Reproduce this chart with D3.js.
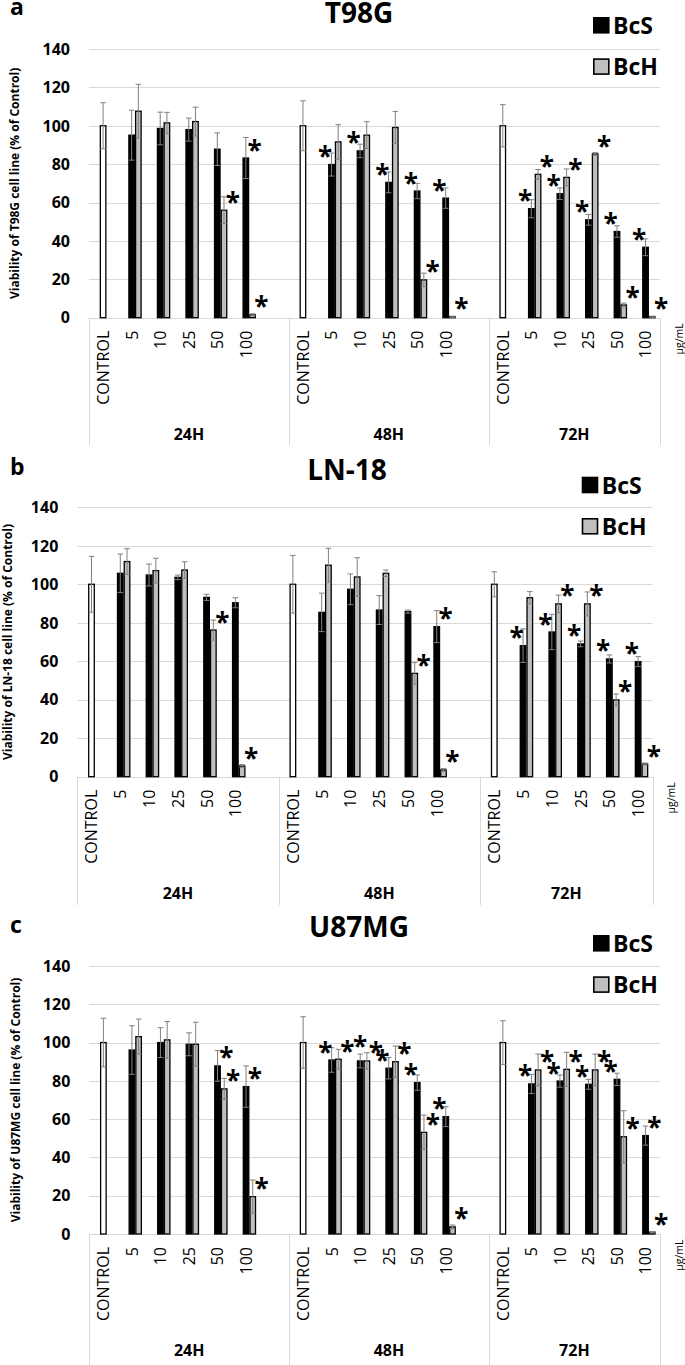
<!DOCTYPE html>
<html><head><meta charset="utf-8">
<script src="https://cdn.jsdelivr.net/npm/d3@7"></script>
<style>
html,body{margin:0;padding:0;background:#fff;}
svg{display:block;font-family:"Open Sans",sans-serif;}
</style></head>
<body><svg id="chart" width="685" height="1365"></svg>
<script>
// ---------- shared categories ----------
const groups = ["24H", "48H", "72H"];
const doses = ["5", "10", "25", "50", "100"];
const controlLabel = "CONTROL";
const seriesNames = ["BcS", "BcH"];
const yTicks = [0, 20, 40, 60, 80, 100, 120, 140];
const unitLabel = "\u03bcg/mL";

// ---------- T98G (a) ----------
const t98gControl = [100, 100, 100];
const t98gControlErr = [12, 13, 11];
const t98gBcS = [[95.1, 98.6, 98, 87.8, 83.2], [79.8, 86.9, 70.5, 66, 62.3], [56.8, 64.6, 51, 44.9, 36.7]];
const t98gBcSErr = [[13, 8.5, 6, 8.5, 10.7], [6, 3.5, 5.4, 4, 5.3], [4.7, 3, 2.8, 3, 4.4]];
const t98gBcH = [[107.6, 101.5, 102.2, 56, 1.5], [91.6, 95.1, 99.1, 19.7, 0.5], [74.7, 73.1, 85.3, 6.6, 0.5]];
const t98gBcHErr = [[14, 5.5, 7.5, 7, 0.5], [9, 7, 8.4, 3.5, 0.3], [2.5, 4.4, 0.7, 1, 0.3]];
const t98gBcSStars = [["", "", "", "", "R"], ["L", "L", "L", "L", "L"], ["L", "L", "L", "L", "L"]];
const t98gBcHStars = [["", "", "", "R", "R"], ["", "", "", "R", "R"], ["R", "R", "R", "R", "R"]];

// ---------- LN-18 (b) ----------
const ln18Control = [100, 100, 100];
const ln18ControlErr = [14.5, 15, 6.5];
const ln18BcS = [[105.7, 104.8, 103.6, 93.2, 90.4], [85.4, 97.4, 86.6, 85.8, 78], [68.1, 75.2, 69, 61.2, 59.8]];
const ln18BcSErr = [[10, 5.7, 1.2, 1.6, 2.6], [10, 8, 7.5, 0.8, 8.3], [8.7, 9.2, 1.5, 2.1, 2.6]];
const ln18BcH = [[111.8, 107.1, 107.4, 76.2, 5.5], [109.9, 103.8, 105.7, 53.7, 3.5], [93, 89.8, 89.8, 39.9, 6.6]];
const ln18BcHErr = [[6.7, 6.4, 4.3, 5.2, 0.8], [8.8, 10, 1.7, 5.7, 0.7], [3.2, 4.6, 6.2, 3.1, 0.5]];
const ln18BcSStars = [["", "", "", "", ""], ["", "", "", "", "R"], ["L", "L", "L", "L", "L"]];
const ln18BcHStars = [["", "", "", "R", "R"], ["", "", "", "R", "R"], ["", "R", "R", "R", "R"]];

// ---------- U87MG (c) ----------
const u87Control = [100, 100, 100];
const u87ControlErr = [12.7, 13.5, 11.4];
const u87BcS = [[96.1, 100, 99.1, 87.8, 77], [90.9, 90.4, 86.6, 79.1, 61.3], [78.4, 79.9, 78.2, 80.8, 51.4]];
const u87BcSErr = [[12.7, 7.8, 6, 8, 10.8], [6.4, 3.6, 5.6, 4, 5.2], [5, 3.2, 2.6, 3.2, 5]];
const u87BcH = [[103.1, 101.4, 99.1, 75.8, 19.5], [91.3, 90.4, 90, 53.1, 3.7], [85.7, 86, 85.7, 50.8, 1]];
const u87BcHErr = [[9.2, 9.6, 11.5, 5.5, 8.7], [5.2, 4.3, 8.2, 9, 1], [8.3, 8.9, 8.3, 13.6, 0.3]];
const u87BcSStars = [["", "", "", "R", "R"], ["L", "U", "L", "L", "L"], ["L", "L", "L", "L", "R"]];
const u87BcHStars = [["", "", "", "R", "R"], ["R", "R", "R", "R", "R"], ["R", "R", "R", "R", "R"]];

// ---------- panels (data + layout) ----------
const panels = [
  {letter: "a", title: "T98G", yTitle: "Viability of T98G cell line (% of Control)",
   control: t98gControl, controlErr: t98gControlErr, bcs: t98gBcS, bcsErr: t98gBcSErr,
   bch: t98gBcH, bchErr: t98gBcHErr, bcsStars: t98gBcSStars, bchStars: t98gBcHStars,
   L: {x0: 89, x1: 660, yTop: 49, yZero: 317.7, boxBottom: 445, titleX: 359, titleY: 12.5,
       letterY: 15, legX: 593, legY: 17, yTitleX: 15, groupY: 434}},
  {letter: "b", title: "LN-18", yTitle: "Viability of LN-18 cell line (% of Control)",
   control: ln18Control, controlErr: ln18ControlErr, bcs: ln18BcS, bcsErr: ln18BcSErr,
   bch: ln18BcH, bchErr: ln18BcHErr, bcsStars: ln18BcSStars, bchStars: ln18BcHStars,
   L: {x0: 77.3, x1: 652.7, yTop: 507.3, yZero: 776.7, boxBottom: 905, titleX: 347, titleY: 470,
       letterY: 475, legX: 581.7, legY: 476.7, yTitleX: 8, groupY: 893}},
  {letter: "c", title: "U87MG", yTitle: "Viability of U87MG cell line (% of Control)",
   control: u87Control, controlErr: u87ControlErr, bcs: u87BcS, bcsErr: u87BcSErr,
   bch: u87BcH, bchErr: u87BcHErr, bcsStars: u87BcSStars, bchStars: u87BcHStars,
   L: {x0: 89.3, x1: 660, yTop: 966, yZero: 1234, boxBottom: 1365, titleX: 359, titleY: 927,
       letterY: 933, legX: 593, legY: 935, yTitleX: 16, groupY: 1350}}
];

const svg = d3.select("#chart");
const GRID = "#d9d9d9", ERR = "#808080", GRAYBAR = "#bfbfbf";
const STAR_SIZE = 26;

function drawPanel(p) {
  const L = p.L;
  const g = svg.append("g");
  // slot keys: each group = CONTROL + doses (+ blank slot except last group)
  const slots = [];
  groups.forEach((grp, gi) => {
    slots.push(grp + "|" + controlLabel);
    doses.forEach(d => slots.push(grp + "|" + d));
    if (gi < groups.length - 1) slots.push(grp + "|blank");
  });
  const x = d3.scaleBand().domain(slots).range([L.x0, L.x1]).padding(0);
  const bw = x.bandwidth();
  const xs = d3.scaleBand().domain(seriesNames).range([bw * 0.376, bw * 0.846]).padding(0);
  const y = d3.scaleLinear().domain([0, 140]).range([L.yZero, L.yTop]);

  // gridlines
  g.append("g").selectAll("line").data(yTicks).join("line")
    .attr("x1", L.x0).attr("x2", L.x1)
    .attr("y1", d => Math.round(y(d)) + 0.5).attr("y2", d => Math.round(y(d)) + 0.5)
    .attr("stroke", GRID).attr("stroke-width", 1);

  // y tick labels
  g.append("g").selectAll("text").data(yTicks).join("text")
    .attr("x", L.x0 - 19).attr("y", d => y(d)).attr("dy", "0.36em")
    .attr("text-anchor", "end").attr("font-size", 16).attr("font-weight", 700)
    .attr("fill", "#000").text(d => d);

  // category box separators
  const seps = [L.x0];
  groups.forEach((grp, gi) => {
    const lastKey = gi < groups.length - 1 ? grp + "|blank" : grp + "|100";
    seps.push(x(lastKey) + bw);
  });
  g.append("g").selectAll("line").data(seps).join("line")
    .attr("x1", d => Math.round(d) + 0.5).attr("x2", d => Math.round(d) + 0.5)
    .attr("y1", L.yZero).attr("y2", L.boxBottom)
    .attr("stroke", GRID).attr("stroke-width", 1);

  // build bar records
  const bars = [];
  groups.forEach((grp, gi) => {
    bars.push({key: grp + "|" + controlLabel, series: "BcS", type: "control",
               v: p.control[gi], e: p.controlErr[gi], star: ""});
    doses.forEach((d, di) => {
      bars.push({key: grp + "|" + d, series: "BcS", type: "BcS",
                 v: p.bcs[gi][di], e: p.bcsErr[gi][di], star: p.bcsStars[gi][di]});
      bars.push({key: grp + "|" + d, series: "BcH", type: "BcH",
                 v: p.bch[gi][di], e: p.bchErr[gi][di], star: p.bchStars[gi][di]});
    });
  });
  const fillOf = t => t === "BcS" ? "#000" : (t === "BcH" ? GRAYBAR : "#fff");

  g.append("g").selectAll("rect").data(bars).join("rect")
    .attr("x", d => x(d.key) + xs(d.series) + 0.6)
    .attr("width", xs.bandwidth() - 1.2)
    .attr("y", d => y(d.v))
    .attr("height", d => Math.max(0, y(0) - y(d.v)))
    .attr("fill", d => fillOf(d.type))
    .attr("stroke", "#000").attr("stroke-width", 1.3);

  // error bars
  const eg = g.append("g").attr("stroke", ERR).attr("stroke-width", 1).attr("fill", "none");
  bars.forEach(d => {
    const cx = x(d.key) + xs(d.series) + xs.bandwidth() / 2;
    const yHi = y(d.v + d.e), yLo = y(Math.max(0, d.v - d.e));
    eg.append("line").attr("x1", cx).attr("x2", cx).attr("y1", yHi).attr("y2", yLo);
    eg.append("line").attr("x1", cx - 2.8).attr("x2", cx + 2.8).attr("y1", yHi).attr("y2", yHi);
    eg.append("line").attr("x1", cx - 2.8).attr("x2", cx + 2.8).attr("y1", yLo).attr("y2", yLo);
  });

  // significance stars
  const starBars = bars.filter(d => d.star);
  g.append("g").selectAll("text").data(starBars).join("text")
    .attr("x", d => {
      const left = x(d.key) + xs(d.series), right = left + xs.bandwidth();
      if (d.star === "L") return left - 3;
      if (d.star === "R") return right + 5.5;
      return left + xs.bandwidth() / 2;
    })
    .attr("y", d => y(d.v) - (d.star === "U" ? 18 : 12) + STAR_SIZE * 0.52)
    .attr("text-anchor", "middle").attr("font-size", STAR_SIZE).attr("font-weight", 700)
    .attr("fill", "#000").text("*");

  // category tick labels (rotated)
  const labelSlots = slots.filter(k => !k.endsWith("|blank"));
  g.append("g").selectAll("text").data(labelSlots).join("text")
    .attr("transform", k => `translate(${x(k) + bw / 2},${L.yZero + 13}) rotate(-90)`)
    .attr("dy", "0.36em").attr("text-anchor", "end")
    .attr("font-size", 16).attr("fill", "#000")
    .text(k => k.split("|")[1]);

  // group labels
  g.append("g").selectAll("text").data(groups).join("text")
    .attr("x", (grp, gi) => (seps[gi] + seps[gi + 1]) / 2)
    .attr("y", L.groupY).attr("dy", "0.36em")
    .attr("text-anchor", "middle").attr("font-size", 16).attr("font-weight", 700)
    .text(d => d);

  // unit label
  g.append("text")
    .attr("transform", `translate(${L.x1 + 19},${L.yZero + 5.5}) rotate(-90)`)
    .attr("dy", "0.36em").attr("text-anchor", "end").attr("font-size", 10.5)
    .text(unitLabel);

  // y axis title
  g.append("text")
    .attr("transform", `translate(${L.yTitleX},${(L.yTop + L.yZero) / 2}) rotate(-90)`)
    .attr("dy", "0.36em").attr("text-anchor", "middle").attr("font-size", 12)
    .attr("font-weight", 700).text(p.yTitle);

  // title
  g.append("text").attr("x", L.titleX).attr("y", L.titleY + 10)
    .attr("text-anchor", "middle").attr("font-size", 28).attr("font-weight", 700)
    .text(p.title);

  // panel letter
  g.append("text").attr("x", 10).attr("y", L.letterY)
    .attr("font-size", 23).attr("font-weight", 700).text(p.letter);

  // legend
  const leg = g.append("g").selectAll("g").data(seriesNames).join("g")
    .attr("transform", (d, i) => `translate(${L.legX},${L.legY + i * 41.3})`);
  leg.append("rect").attr("x", 0.8).attr("y", 0.8).attr("width", 15).attr("height", 15)
    .attr("fill", d => d === "BcS" ? "#000" : GRAYBAR).attr("stroke", "#000").attr("stroke-width", 1.6);
  leg.append("text").attr("x", 20).attr("y", 17).attr("font-size", 23).attr("font-weight", 700)
    .text(d => d);
}

panels.forEach(drawPanel);
</script>
</body></html>
